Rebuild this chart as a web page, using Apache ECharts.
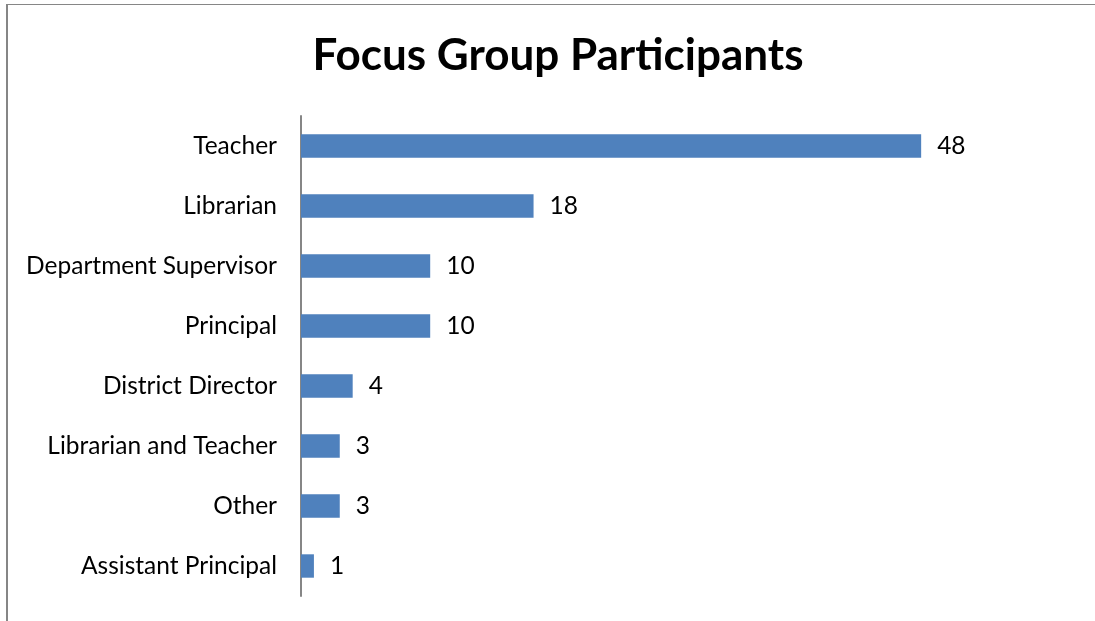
<!DOCTYPE html>
<html>
<head>
<meta charset="utf-8">
<script src="https://cdn.jsdelivr.net/npm/echarts@6/dist/echarts.min.js"></script>
<style>
  html, body { margin: 0; padding: 0; background: #fff; overflow: hidden; }
  #frame { position: absolute; left: 6px; top: 4px; width: 1200px; height: 700px;
           border-left: 2px solid #868686; border-top: 1px solid #868686; }
  #chart { position: absolute; left: 0; top: 0; width: 1095px; height: 621px; }
</style>
</head>
<body>
<div id="frame"></div>
<div id="chart"></div>
<script>
// data (top to bottom)
var roles = ['Teacher', 'Librarian', 'Department Supervisor', 'Principal',
             'District Director', 'Librarian and Teacher', 'Other', 'Assistant Principal'];
var counts = [48, 18, 10, 10, 4, 3, 3, 1];

var myChart = echarts.init(document.getElementById('chart'));
var font = 'Lato, "Open Sans", sans-serif';

var option = {
    animation: false,
    title: {
        text: 'Focus Group Participants',
        left: 553,
        top: 29,
        textAlign: 'center',
        textStyle: {
            color: '#000',
            fontSize: 44,
            fontWeight: 'bold',
            fontFamily: font
        }
    },
    grid: {
        left: 301,
        top: 116,
        bottom: 25,
        right: 148
    },
    xAxis: {
        type: 'value',
        min: 0,
        max: 50,
        show: false
    },
    yAxis: {
        type: 'category',
        data: roles,
        inverse: true,
        axisLine: { show: true, lineStyle: { color: '#868686', width: 2 } },
        axisTick: { show: false },
        axisLabel: {
            color: '#000',
            fontSize: 24.5,
            fontFamily: font,
            margin: 24
        }
    },
    series: [{
        type: 'bar',
        data: counts,
        barWidth: '39%',
        itemStyle: { color: '#4F81BD' },
        label: {
            show: true,
            position: 'right',
            distance: 16,
            color: '#000',
            fontSize: 24.5,
            fontFamily: font
        }
    }]
};

myChart.setOption(option);
</script>
</body>
</html>
